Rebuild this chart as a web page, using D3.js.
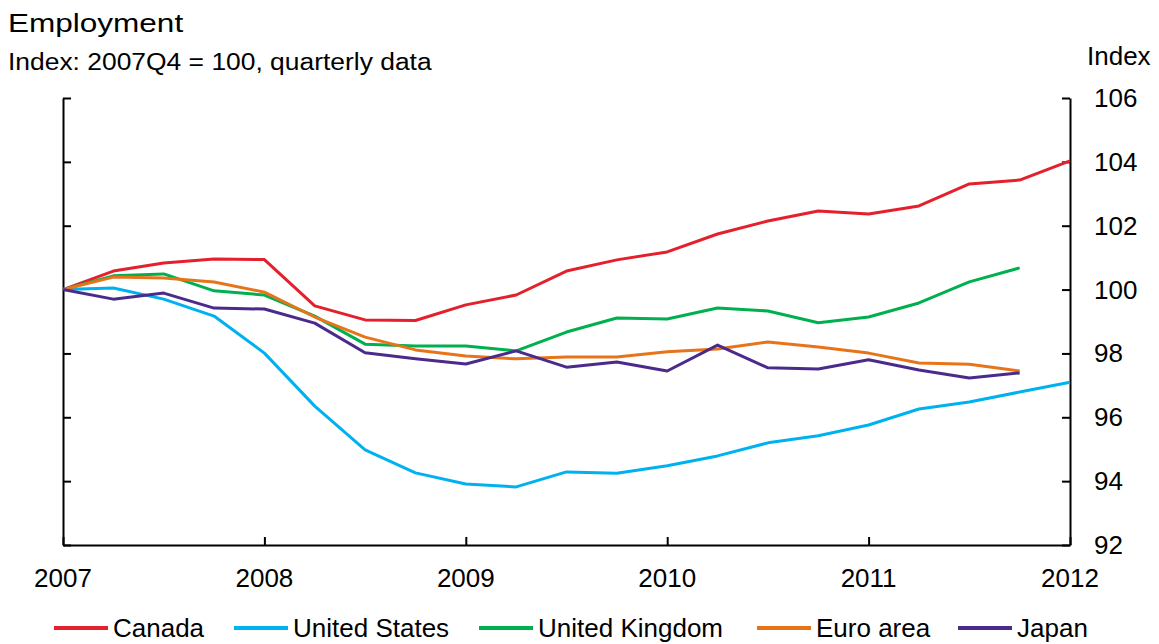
<!DOCTYPE html>
<html>
<head>
<meta charset="utf-8">
<script src="https://cdn.jsdelivr.net/npm/d3@7"></script>
<style>
  body { margin: 0; background: #fff; }
  text { font-family: "Liberation Sans", Arial, sans-serif; fill: #000; }
</style>
</head>
<body>
<div id="chart"></div>
<script>
// Quarterly index values, 2007Q4 = 100
const canada = [100, 100.58, 100.83, 100.96, 100.94, 99.49, 99.05, 99.03, 99.52, 99.83,
  100.58, 100.93, 101.18, 101.74, 102.15, 102.46, 102.37, 102.62, 103.31, 103.43, 104.03];
const unitedStates = [100, 100.05, 99.7, 99.17, 98.01, 96.35, 94.98, 94.26, 93.91, 93.82,
  94.29, 94.25, 94.48, 94.79, 95.2, 95.42, 95.76, 96.26, 96.48, 96.79, 97.1];
const unitedKingdom = [100, 100.43, 100.49, 99.96, 99.83, 99.17, 98.29, 98.23, 98.23, 98.08,
  98.67, 99.11, 99.08, 99.42, 99.33, 98.96, 99.14, 99.58, 100.24, 100.68];
const euroArea = [100, 100.39, 100.36, 100.24, 99.92, 99.14, 98.51, 98.11, 97.92, 97.83,
  97.89, 97.89, 98.05, 98.14, 98.36, 98.2, 98.01, 97.7, 97.66, 97.45];
const japan = [100, 99.7, 99.89, 99.42, 99.39, 98.95, 98.02, 97.83, 97.67, 98.08,
  97.57, 97.73, 97.45, 98.26, 97.55, 97.51, 97.8, 97.48, 97.23, 97.39];

const seriesNames = ["Canada", "United States", "United Kingdom", "Euro area", "Japan"];
const seriesColors = ["#e3202b", "#00b1f0", "#00b04f", "#e8741a", "#4a2a8b"];
const yearLabels = ["2007", "2008", "2009", "2010", "2011", "2012"];
const yTicks = [92, 94, 96, 98, 100, 102, 104, 106];

const width = 1159, height = 644;
const margin = { top: 98, right: 89, bottom: 99, left: 63 };

const svg = d3.select("#chart")
  .append("svg")
  .attr("width", width)
  .attr("height", height);

// quarter index scale, 20 quarters across five years
const x = d3.scaleLinear()
  .domain([0, 20])
  .range([margin.left, width - margin.right]);

const y = d3.scaleLinear()
  .domain([92, 106])
  .range([height - margin.bottom, margin.top]);

// Titles (the source type is set a bit wide)
svg.append("text")
  .attr("transform", "translate(8,32) scale(1.19,1)")
  .style("font-size", "26.5px")
  .text("Employment");

svg.append("text")
  .attr("transform", "translate(8,70) scale(1.07,1)")
  .style("font-size", "24.7px")
  .text("Index: 2007Q4 = 100, quarterly data");

svg.append("text")
  .attr("x", 1087).attr("y", 65)
  .style("font-size", "26px")
  .text("Index");

// Axes: ticks point inward
const yearScale = d3.scalePoint()
  .domain(yearLabels)
  .range([margin.left, width - margin.right]);

const xAxis = svg.append("g")
  .attr("transform", `translate(0,${height - margin.bottom})`)
  .call(d3.axisTop(yearScale).tickSize(8).tickPadding(0).tickSizeOuter(0));
xAxis.selectAll("text").remove();

const leftAxis = svg.append("g")
  .attr("transform", `translate(${margin.left},0)`)
  .call(d3.axisRight(y).tickValues(yTicks).tickSize(8).tickSizeOuter(0));
leftAxis.selectAll("text").remove();

const rightAxis = svg.append("g")
  .attr("transform", `translate(${width - margin.right},0)`)
  .call(d3.axisLeft(y).tickValues(yTicks).tickSize(8).tickSizeOuter(0));
rightAxis.selectAll("text").remove();

svg.selectAll(".domain, .tick line")
  .attr("stroke", "#000")
  .attr("stroke-width", 2);

// Tick labels
svg.append("g")
  .selectAll("text")
  .data(yTicks)
  .enter()
  .append("text")
  .attr("x", width - margin.right + 24)
  .attr("y", d => y(d) + 9)
  .style("font-size", "26px")
  .text(d => d);

svg.append("g")
  .selectAll("text")
  .data(yearLabels)
  .enter()
  .append("text")
  .attr("x", d => yearScale(d))
  .attr("y", height - margin.bottom + 42)
  .attr("text-anchor", "middle")
  .style("font-size", "26px")
  .text(d => d);

// Lines
const allSeries = [canada, unitedStates, unitedKingdom, euroArea, japan];
const line = d3.line()
  .x((d, i) => x(i))
  .y(d => y(d));

svg.append("g")
  .selectAll("path")
  .data(allSeries)
  .enter()
  .append("path")
  .attr("d", line)
  .attr("fill", "none")
  .attr("stroke", (d, i) => seriesColors[i])
  .attr("stroke-width", 3)
  .attr("stroke-linejoin", "round");

// Legend
const legendX = [54, 234, 479, 757, 958];
const legend = svg.append("g")
  .selectAll("g")
  .data(seriesNames)
  .enter()
  .append("g")
  .attr("transform", (d, i) => `translate(${legendX[i]},628)`);

legend.append("line")
  .attr("x1", 0).attr("x2", 54)
  .attr("stroke", (d, i) => seriesColors[i])
  .attr("stroke-width", 4);

legend.append("text")
  .attr("x", 59)
  .attr("y", 9)
  .style("font-size", "26px")
  .text(d => d);
</script>
</body>
</html>
